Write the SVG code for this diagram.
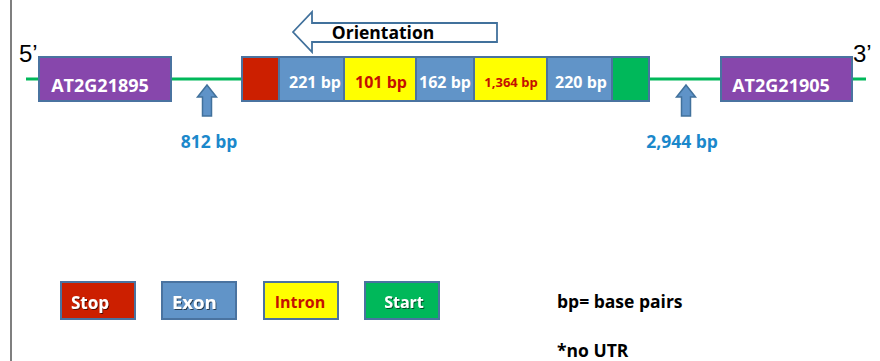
<svg xmlns="http://www.w3.org/2000/svg" width="880" height="361" viewBox="0 0 880 361">
<defs>
<style>
text{font-family:"Open Sans","Noto Sans","Liberation Sans",sans-serif;font-weight:bold}
.box{stroke:#4A73A0;stroke-width:2}
.w{fill:#fff}
.c{text-anchor:middle}
.lbl{fill:#1B88CB;font-size:17.5px;text-anchor:middle}
.arr{fill:#5F93C8;stroke:#41719C;stroke-width:1.5}
</style>
<filter id="sh" x="-10%" y="-10%" width="130%" height="140%"><feDropShadow dx="1" dy="1" stdDeviation="0.6" flood-color="#000" flood-opacity="0.6"/></filter>
</defs>
<rect width="880" height="361" fill="#fff"/>
<line x1="11" y1="0" x2="11" y2="361" stroke="#555" stroke-width="1.5"/>
<g id="connectors">
<line x1="26" y1="79" x2="866" y2="79" stroke="#00B85A" stroke-width="3"/>
</g>
<text x="19" y="62" font-size="24" style="font-family:'Liberation Sans',sans-serif;font-weight:normal">5’</text>
<text x="853" y="62" font-size="24" style="font-family:'Liberation Sans',sans-serif;font-weight:normal">3’</text>
<g id="gene1">
<rect class="box" x="39" y="57" width="132" height="44" fill="#8747AC"/>
<text class="w c" x="100" y="92" font-size="18">AT2G21895</text>
</g>
<g id="gene2">
<rect class="box" x="721" y="57" width="131" height="44" fill="#8747AC"/>
<text class="w c" x="781" y="92" font-size="18">AT2G21905</text>
</g>
<g id="orientation">
<path d="M293,32 L312,12 L312,23 L497,23 L497,42 L312,42 L312,52 Z" fill="#fff" stroke="#41719C" stroke-width="1.8"/>
<text class="c" x="383" y="39" font-size="17.5" fill="#000">Orientation</text>
</g>
<g id="target-gene">
<rect class="box" x="242" y="57" width="37" height="44" fill="#CC1F00"/>
<rect class="box" x="279" y="57" width="65" height="44" fill="#6194C8"/>
<rect class="box" x="344" y="57" width="72" height="44" fill="#FFFF00"/>
<rect class="box" x="416" y="57" width="58" height="44" fill="#6194C8"/>
<rect class="box" x="474" y="57" width="73" height="44" fill="#FFFF00"/>
<rect class="box" x="547" y="57" width="65" height="44" fill="#6194C8"/>
<rect class="box" x="612" y="57" width="37" height="44" fill="#00B85A"/>
<text class="w c" x="315" y="88" font-size="16">221 bp</text>
<text class="c" x="381" y="88" font-size="16" fill="#C41000">101 bp</text>
<text class="w c" x="445" y="88" font-size="16">162 bp</text>
<text class="c" x="511" y="87" font-size="13" fill="#C41000">1,364 bp</text>
<text class="w c" x="581" y="88" font-size="16">220 bp</text>
</g>
<g id="gap1">
<path class="arr" d="M207,85 L216.5,97 L211.5,97 L211.5,116 L202.5,116 L202.5,97 L197.5,97 Z"/>
<text class="lbl" x="209" y="148">812 bp</text>
</g>
<g id="gap2">
<path class="arr" d="M686,85 L695.5,97 L690.5,97 L690.5,116 L681.5,116 L681.5,97 L676.5,97 Z"/>
<text class="lbl" x="682" y="148">2,944 bp</text>
</g>
<g id="legend-stop">
<rect class="box" x="61" y="282" width="74" height="37" fill="#CC1F00"/>
<text class="w" x="71" y="309" font-size="17" filter="url(#sh)">Stop</text>
</g>
<g id="legend-exon">
<rect class="box" x="162" y="282" width="74" height="37" fill="#6194C8"/>
<text class="w" x="172" y="309" font-size="18.5" filter="url(#sh)">Exon</text>
</g>
<g id="legend-intron">
<rect class="box" x="264" y="282" width="74" height="37" fill="#FFFF00"/>
<text class="c" x="300" y="308" font-size="16" fill="#C41000">Intron</text>
</g>
<g id="legend-start">
<rect class="box" x="365" y="282" width="74" height="37" fill="#00B85A"/>
<text class="w c" x="404" y="308" font-size="16" filter="url(#sh)">Start</text>
</g>
<text x="557" y="308" font-size="17.5" fill="#000">bp= base pairs</text>
<text x="557" y="357" font-size="17.5" fill="#000">*no UTR</text>
</svg>
